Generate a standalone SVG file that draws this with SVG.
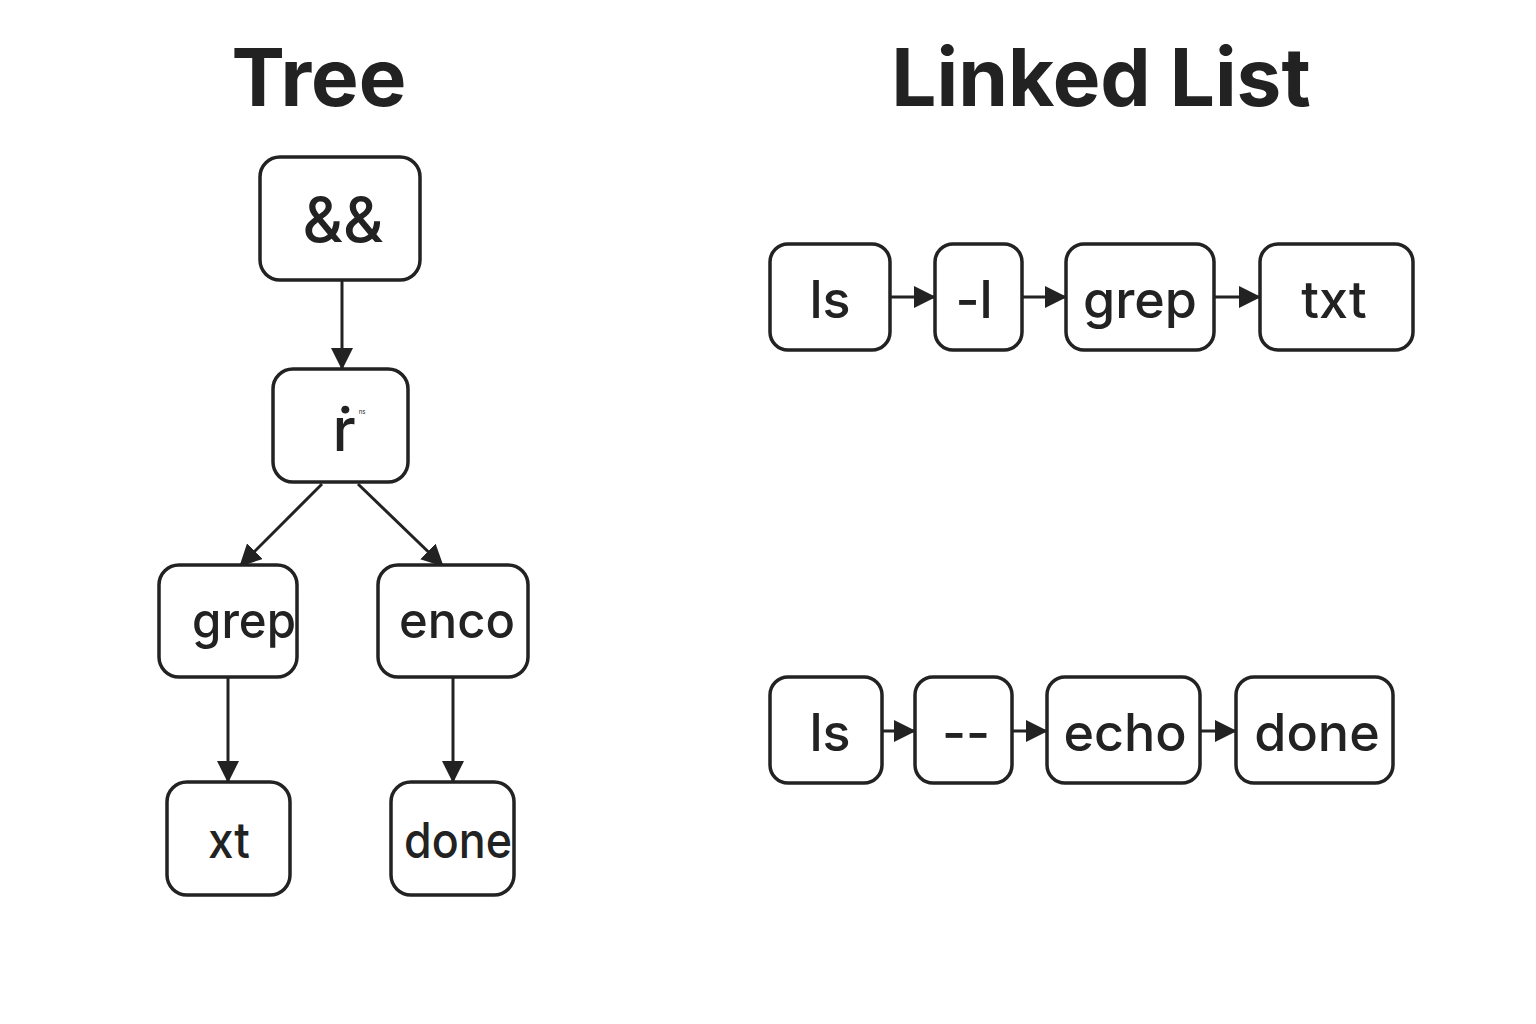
<svg xmlns="http://www.w3.org/2000/svg" width="1536" height="1024" viewBox="0 0 1536 1024">
<defs>
<marker id="ahl" markerWidth="22" markerHeight="22" refX="21" refY="11" orient="auto" markerUnits="userSpaceOnUse" viewBox="0 0 22 22">
<path d="M0,0 L22,11 L0,22 z" fill="#222"/>
</marker>
</defs>
<style>
.box{fill:#fff;stroke:#222;stroke-width:3.5}
.t{font-family:Inter,"Noto Sans","Liberation Sans",sans-serif;fill:#222;text-anchor:middle}
.title{font-size:80px;font-weight:700}
.lbl{font-size:52px;font-weight:500}
.tl{font-size:50px;font-weight:500}
.edge{stroke:#222;stroke-width:3;fill:none;marker-end:url(#ahl)}
</style>
<rect width="1536" height="1024" fill="#fff"/>
<text class="t title" x="319" y="106">Tree</text>
<text class="t title" x="1101" y="106">Linked List</text>
<g id="connectors">
<line class="edge" x1="342" y1="281" x2="342" y2="369"/>
<line class="edge" x1="322" y1="484" x2="240" y2="566"/>
<line class="edge" x1="358" y1="484" x2="443" y2="566"/>
<line class="edge" x1="228" y1="678" x2="228" y2="782"/>
<line class="edge" x1="453" y1="678" x2="453" y2="782"/>
<line class="edge" x1="890" y1="297" x2="935" y2="297"/>
<line class="edge" x1="1022" y1="297" x2="1066" y2="297"/>
<line class="edge" x1="1214" y1="297" x2="1260" y2="297"/>
<line class="edge" x1="882" y1="731" x2="915" y2="731"/>
<line class="edge" x1="1012" y1="731" x2="1047" y2="731"/>
<line class="edge" x1="1200" y1="731" x2="1236" y2="731"/>
</g>
<g id="t-and"><rect class="box" x="260" y="157" width="160" height="123" rx="20"/><text class="t" x="343" y="242" font-size="62" font-weight="500">&amp;&amp;</text></g>
<g id="t-r"><rect class="box" x="273" y="369" width="135" height="113" rx="20"/><text class="t" x="344" y="451" font-size="60" font-weight="500">ṙ</text><text class="t" x="362" y="414" font-size="6">ns</text></g>
<g id="t-grep"><rect class="box" x="159" y="565" width="138" height="112" rx="20"/><text class="t tl" x="244" y="638" textLength="104" lengthAdjust="spacingAndGlyphs">grep</text></g>
<g id="t-enco"><rect class="box" x="378" y="565" width="150" height="112" rx="20"/><text class="t tl" x="457" y="638" textLength="116" lengthAdjust="spacingAndGlyphs">enco</text></g>
<g id="t-xt"><rect class="box" x="167" y="782" width="123" height="113" rx="20"/><text class="t tl" x="229" y="858" textLength="42" lengthAdjust="spacingAndGlyphs">xt</text></g>
<g id="t-done"><rect class="box" x="391" y="782" width="123" height="113" rx="20"/><text class="t tl" x="458" y="858" textLength="108" lengthAdjust="spacingAndGlyphs">done</text></g>
<g id="l1-ls"><rect class="box" x="770" y="244" width="120" height="106" rx="18"/><text class="t lbl" x="830" y="318">ls</text></g>
<g id="l1-l"><rect class="box" x="935" y="244" width="87" height="106" rx="18"/><text class="t lbl" x="974" y="318">-l</text></g>
<g id="l1-grep"><rect class="box" x="1066" y="244" width="148" height="106" rx="18"/><text class="t lbl" x="1140" y="318">grep</text></g>
<g id="l1-txt"><rect class="box" x="1260" y="244" width="153" height="106" rx="18"/><text class="t lbl" x="1334" y="318">txt</text></g>
<g id="l2-ls"><rect class="box" x="770" y="677" width="112" height="106" rx="18"/><text class="t lbl" x="830" y="751">ls</text></g>
<g id="l2-dd"><rect class="box" x="915" y="677" width="97" height="106" rx="18"/><text class="t lbl" x="966" y="751">--</text></g>
<g id="l2-echo"><rect class="box" x="1047" y="677" width="153" height="106" rx="18"/><text class="t lbl" x="1125" y="751">echo</text></g>
<g id="l2-done"><rect class="box" x="1236" y="677" width="157" height="106" rx="18"/><text class="t lbl" x="1317" y="751">done</text></g>
</svg>
